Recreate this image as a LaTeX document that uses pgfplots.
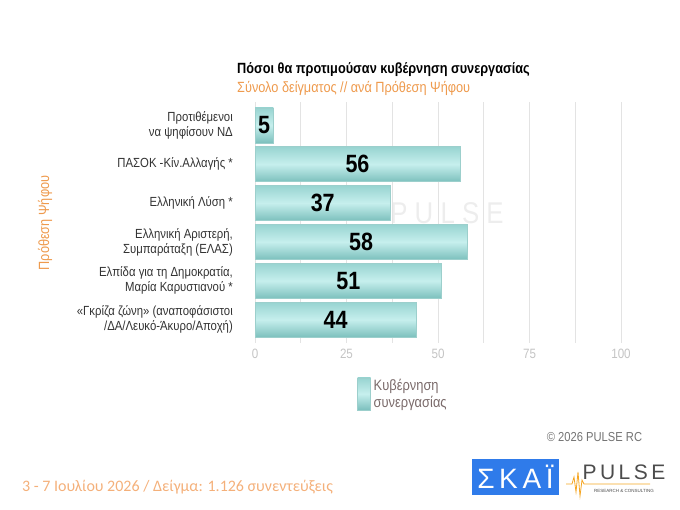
\documentclass[border=0pt]{standalone}
\usepackage{pgfplots}
\pgfplotsset{compat=1.18}
\usepackage{pgfplotstable}
\usepackage{fontspec}
\setmainfont{Liberation Sans}[FakeStretch=0.86]
\newfontfamily\calibri{Carlito}
\newfontfamily\plain{Liberation Sans}
\definecolor{barlight}{HTML}{C6EFED}
\definecolor{bartop}{HTML}{98D4D1}
\definecolor{barbot}{HTML}{7CC0BD}
\definecolor{bardraw}{HTML}{9CCFCC}
\definecolor{gridgray}{HTML}{E3E3E3}
\definecolor{tickgray}{HTML}{C4C4C4}
\definecolor{subor}{HTML}{EE9A4D}
\definecolor{footor}{HTML}{F4B07A}
\definecolor{legtext}{HTML}{7A6A6A}
\definecolor{skaiblue}{HTML}{2F7BEA}
\definecolor{pulseor}{HTML}{F5A623}
\pgfplotstableread{
y v
0 5
1 56
2 37
3 58
4 51
5 44
}\datatab
\begin{document}
\begin{tikzpicture}[x=1pt,y=1pt]
\path[use as bounding box] (0,0) rectangle (680,510);
% watermark
\node[anchor=center, text=black!7, font=\fontsize{30}{30}\selectfont] at (447,297) {P U L S E};
% titles
\node[anchor=west, inner sep=0pt, font=\bfseries\fontsize{14.8}{16}\selectfont] at (237,440) {Πόσοι θα προτιμούσαν κυβέρνηση συνεργασίας};
\node[anchor=west, inner sep=0pt, text=subor, font=\fontsize{14.8}{16}\selectfont] at (237,422) {Σύνολο δείγματος // ανά Πρόθεση Ψήφου};
\node[rotate=90, text=subor, font=\fontsize{14.8}{16}\selectfont] at (45,287) {Πρόθεση Ψήφου};
\begin{axis}[
  at={(255pt,167pt)}, anchor=south west,
  width=366pt, height=241pt, scale only axis,
  xmin=0, xmax=100, ymin=-0.6, ymax=5.6, y dir=reverse,
  xtick={0,25,50,75,100}, minor x tick num=1,
  xmajorgrids, xminorgrids,
  major grid style={draw=gridgray, line width=0.9pt},
  minor grid style={draw=gridgray, line width=0.9pt},
  axis line style={draw=none}, tick style={draw=none},
  /pgf/number format/assume math mode=true,
  xticklabel style={text=tickgray, font=\fontsize{13.5}{15}\selectfont, yshift=-3pt},
  ytick={0,1,2,3,4,5},
  yticklabels={{Προτιθέμενοι\\να ψηφίσουν ΝΔ},{ΠΑΣΟΚ -Κίν.Αλλαγής *},{Ελληνική Λύση *},{Ελληνική Αριστερή,\\Συμπαράταξη (ΕΛΑΣ)},{Ελπίδα για τη Δημοκρατία,\\Μαρία Καρυστιανού *},{«Γκρίζα ζώνη» (αναποφάσιστοι\\/ΔΑ/Λευκό-Άκυρο/Αποχή)}},
  yticklabel style={align=right, inner sep=0pt, xshift=-22pt, font=\fontsize{13.2}{15}\selectfont, text=black!80},
  bar width=35pt, bar shift=0pt,
  clip=false,
  legend style={at={(0.279,-0.14)}, anchor=north west, draw=none, fill=none, inner sep=0pt,
    font=\fontsize{15}{17}\selectfont, text=legtext, legend cell align=left,
    nodes={align=left, inner xsep=3pt}},
  legend image code/.code={\shade[top color=bartop, bottom color=barbot, middle color=barlight] (0pt,-16pt) rectangle (13pt,16pt);},
  barsty/.style={xbar, draw=bardraw, line width=0.4pt, top color=bartop, bottom color=barbot, middle color=barlight},
]
\addplot[barsty] coordinates {(5,0)};
\addlegendentry{Κυβέρνηση\\συνεργασίας}
\addplot[barsty, forget plot] coordinates {(56,1)};
\addplot[barsty, forget plot] coordinates {(37,2)};
\addplot[barsty, forget plot] coordinates {(58,3)};
\addplot[barsty, forget plot] coordinates {(51,4)};
\addplot[barsty, forget plot] coordinates {(44,5)};
\addplot[forget plot, draw=none, mark=none, nodes near coords, point meta=explicit symbolic,
  nodes near coords style={anchor=center, font=\bfseries\fontsize{25}{25}\selectfont, text=black}]
  table[x expr=\thisrow{v}/2, y=y, meta=v] {\datatab};
\end{axis}
% footer
\node[anchor=west, inner sep=0pt, text=footor, font=\calibri\fontsize{16}{17}\selectfont] at (22,23) {3 - 7  Ιουλίου 2026  /  Δείγμα:  1.126 συνεντεύξεις};
\node[anchor=center, text=black!55, font=\fontsize{13}{14}\selectfont] at (594.5,73) {© 2026  PULSE RC};
\fill[skaiblue] (472,15) rectangle (559,51);
\node[text=white, font=\plain\fontsize{28}{28}\selectfont] at (515.5,33) {Σ\,Κ\,Α\,Ϊ};
\node[text=black!70, font=\plain\fontsize{21}{21}\selectfont] at (624,38) {P\,U\,L\,S\,E};
\draw[pulseor, line width=0.8pt] (566,26) -- (572,26) -- (574,33) -- (576,18) -- (578,38) -- (580,14) -- (582,30) -- (584,26) -- (650,26);
\node[text=black!70, font=\plain\fontsize{4.5}{5}\selectfont] at (624,19) {RESEARCH \& CONSULTING};
\end{tikzpicture}
\end{document}
